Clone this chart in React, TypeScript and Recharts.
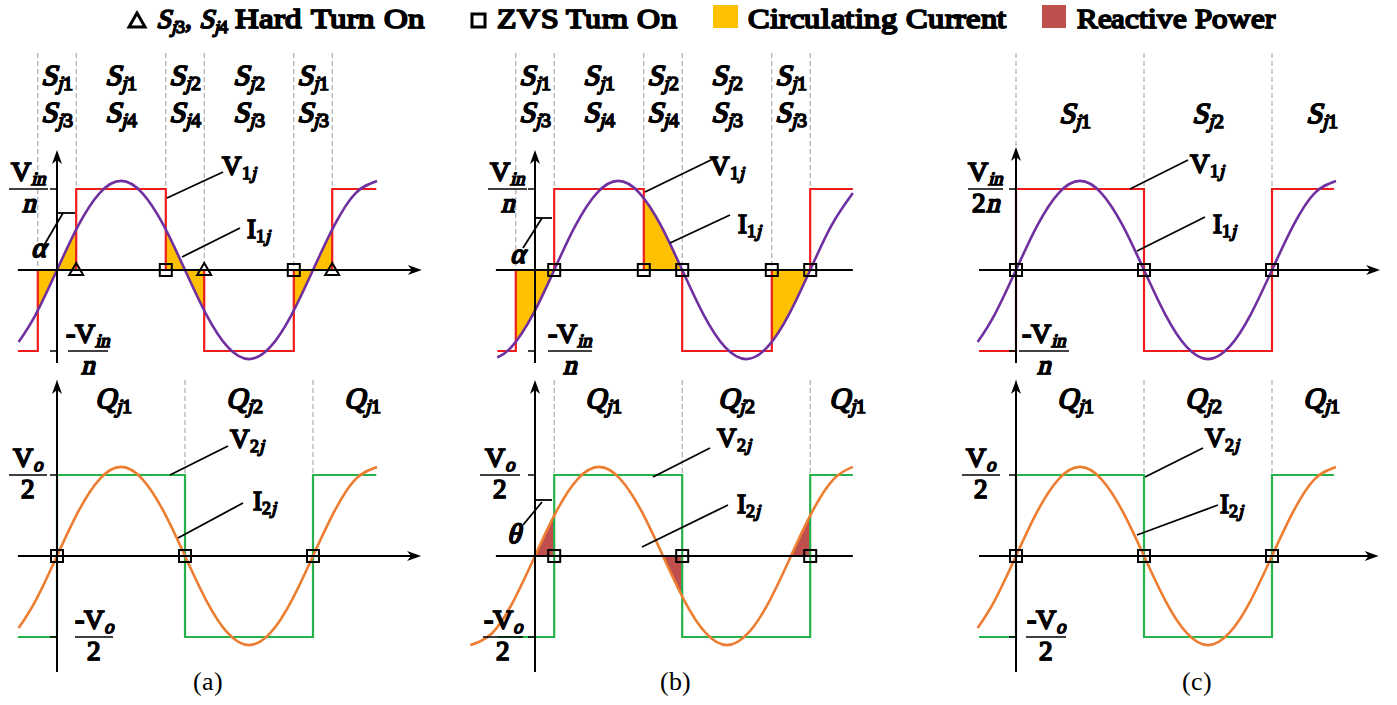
import React from "react";
import {
  Area,
  ComposedChart,
  Line,
  ReferenceDot,
  ReferenceLine,
  Scatter,
  XAxis,
  YAxis,
} from "recharts";

// phase in degrees, values relative to the square-wave level
const phaseI = [-54, -30, 0, 30, 60, 90, 120, 150, 180, 210, 240, 270, 300, 330, 360, 390, 420, 450];
const currI = [-0.89, -0.55, 0, 0.55, 0.95, 1.1, 0.95, 0.55, 0, -0.55, -0.95, -1.1, -0.95, -0.55, 0, 0.55, 0.95, 1.1];
const phaseI1b = [-53, -33, -3, 27, 57, 87, 117, 147, 177, 207, 237, 267, 297, 327, 357, 387, 417, 447];
const currI1b = [-1.08, -0.95, -0.55, 0, 0.55, 0.95, 1.1, 0.95, 0.55, 0, -0.55, -0.95, -1.1, -0.95, -0.55, 0, 0.55, 0.95];
const phaseI2b = [-91, -60, -30, 0, 30, 60, 90, 120, 150, 180, 210, 240, 270, 300, 330, 360, 390, 420, 447];
const currI2b = [-1.1, -0.95, -0.55, 0, 0.55, 0.95, 1.1, 0.95, 0.55, 0, -0.55, -0.95, -1.1, -0.95, -0.55, 0, 0.55, 0.95, 1.1];

const v1aEdges = [-55, -27, 27, 153, 207, 333, 387, 449];
const v1bEdges = [-53, -27, 27, 153, 207, 333, 387, 447];
const v1Levels = [-1, 0, 1, 0, -1, 0, 1, 1];
const v1cEdges = [-52, 0, 180, 360, 447];
const v2aEdges = [-55, 0, 180, 360, 449];
const v2bEdges = [-53, 27, 207, 387, 447];
const twoLevels = [-1, 1, -1, 1, 1];

const circPhase = [[-27, -13.5, 0, 13.5, 27], [153, 166.5, 180, 193.5, 207], [333, 346.5, 360, 373.5, 387]];
const circA = [[-0.5, -0.26, 0, 0.26, 0.5], [0.5, 0.26, 0, -0.26, -0.5], [-0.5, -0.26, 0, 0.26, 0.5]];
const circB = [[-0.89, -0.71, -0.5, -0.26, 0], [0.89, 0.71, 0.5, 0.26, 0], [-0.89, -0.71, -0.5, -0.26, 0]];
const reactPhase = [[0, 13.5, 27], [180, 193.5, 207], [360, 373.5, 387]];
const reactB = [[0, 0.26, 0.5], [0, -0.26, -0.5], [0, 0.26, 0.5]];

const hardA = [27, 207, 387];
const zvsA = [153, 333];
const zvsB1 = [27, 153, 207, 333, 387];
const zvsC = [0, 180, 360];
const zvsB2 = [27, 207, 387];

const statesAB = [["S|j1", "S|j3"], ["S|j1", "S|j4"], ["S|j2", "S|j4"], ["S|j2", "S|j3"], ["S|j1", "S|j3"]];
const statesC = [["S|j1"], ["S|j2"], ["S|j1"]];
const statesQ = [["Q|j1"], ["Q|j2"], ["Q|j1"]];

const K = 256 / 360; // px per degree
const U = 81; // px per unit level
// only the regular serif face is installed, so let the browser synthesise bold/italic
const FACE = `@font-face{font-family:'FigSerif';src:local('Liberation Serif'),local('LiberationSerif'),local('Times New Roman');font-weight:400;font-style:normal;}`;
const SERIF = "FigSerif, 'Liberation Serif', serif";
const BOLD = 0.75; // extra stroke to thicken the synthetic bold

type Pt = { x: number; y: number };
const mk = (xs: number[], ys: number[]): Pt[] => xs.map((x, i) => ({ x, y: ys[i] }));
const onAxis = (xs: number[]): Pt[] => xs.map((x) => ({ x, y: 0 }));
const inner = (edges: number[], levels: number[]) =>
  edges.slice(1, -1).map((x, i) => ({ x, to: Math.max(levels[i], levels[i + 1]) }));

function runs(s: string) {
  const out: [string, boolean][] = [];
  for (const ch of s) {
    const it = /[A-Za-z\u03b1-\u03c9]/.test(ch) && ch !== "V" && ch !== "I";
    const last = out[out.length - 1];
    if (last && last[1] === it) last[0] += ch;
    else out.push([ch, it]);
  }
  return out;
}

function Rich({ x, y, spec, size = 28, anchor = "start" }: any) {
  const [main, sub] = spec.split("|");
  const subSize = Math.round(size * 0.68);
  return (
    <text x={x} y={y} textAnchor={anchor} fontFamily={SERIF} fontWeight="bold" fontSize={size} fill="#000" stroke="#000" strokeWidth={BOLD}>
      {runs(main).map(([t, it], i) => (
        <tspan key={"m" + i} fontStyle={it ? "italic" : "normal"}>{t}</tspan>
      ))}
      {sub
        ? runs(sub).map(([t, it], i) => (
            <tspan key={"s" + i} fontSize={subSize} fontStyle={it ? "italic" : "normal"} dy={i === 0 ? Math.round(size * 0.16) : undefined}>
              {t}
            </tspan>
          ))
        : null}
    </text>
  );
}

const arrowRight = (s: any) => (
  <polygon points={`${s.cx},${s.cy} ${s.cx - 14},${s.cy - 5} ${s.cx - 10},${s.cy} ${s.cx - 14},${s.cy + 5}`} fill="#000" />
);
const arrowUp = (s: any) => (
  <polygon points={`${s.cx},${s.cy} ${s.cx - 5},${s.cy + 14} ${s.cx},${s.cy + 10} ${s.cx + 5},${s.cy + 14}`} fill="#000" />
);
const squareMark = (s: any) => (
  <rect x={s.cx - 6} y={s.cy - 6} width={12} height={12} fill="none" stroke="#000" strokeWidth={2} />
);
const triMark = (s: any) => (
  <polygon points={`${s.cx},${s.cy - 7} ${s.cx - 7},${s.cy + 5} ${s.cx + 7},${s.cy + 5}`} fill="none" stroke="#000" strokeWidth={2} />
);

type Col = { left: number; width: number; ox: number };
type Row = { top: number; height: number; oy: number };
const colA: Col = { left: 0, width: 445, ox: 57 };
const colB: Col = { left: 470, width: 420, ox: 535 };
const colC: Col = { left: 940, width: 457, ox: 1016 };
const rowTop: Row = { top: 40, height: 340, oy: 270 };
const rowBot: Row = { top: 370, height: 335, oy: 556 };

interface Ann {
  lines: number[][];
  texts: { at: number[]; spec: string; size?: number; anchor?: string }[];
  fracs: { at: number[]; w: number; num: string; den: string }[];
}

interface PanelSpec {
  col: Col;
  row: Row;
  sine: Pt[];
  sineColor: string;
  square: Pt[];
  squareColor: string;
  fills: Pt[][];
  fillColor: string;
  hard: number[];
  zvs: number[];
  dashed: { x: number; to: number }[];
  dashTop: number;
  axisX: number[];
  arrowX: boolean;
  axisY: number[];
  states: string[][];
  statePhase: number[];
  stateRows: number[];
  ann: Ann;
}

function Panel({ s }: { s: PanelSpec }) {
  const { col, row } = s;
  const X = (dx: number) => dx / K;
  const Y = (dy: number) => -dy / U;
  const xDomain = [X(col.left - col.ox), X(col.left + col.width - col.ox)];
  const yDomain = [Y(row.top + row.height - row.oy), Y(row.top - row.oy)];
  const xEnd = s.arrowX ? s.axisX[1] - X(8) : s.axisX[1];
  return (
    <div style={{ position: "absolute", left: col.left, top: row.top }}>
      <ComposedChart width={col.width} height={row.height} margin={{ top: 0, right: 0, bottom: 0, left: 0 }}>
        <XAxis type="number" dataKey="x" domain={xDomain} hide allowDataOverflow />
        <YAxis type="number" dataKey="y" domain={yDomain} hide allowDataOverflow />
        {s.fills.map((f, i) => (
          <Area key={"f" + i} data={f} dataKey="y" type="monotone" baseValue={0} stroke="none" fill={s.fillColor} fillOpacity={1} isAnimationActive={false} />
        ))}
        {s.dashed.map((d, i) => (
          <ReferenceLine key={"d" + i} segment={[{ x: d.x, y: Y(s.dashTop) }, { x: d.x, y: d.to }]} stroke="#9a9a9a" strokeWidth={1} strokeDasharray="5 3" />
        ))}
        <Line data={s.square} dataKey="y" type="stepAfter" stroke={s.squareColor} strokeWidth={2.2} dot={false} isAnimationActive={false} />
        <Line data={s.sine} dataKey="y" type="natural" stroke={s.sineColor} strokeWidth={2.6} dot={false} isAnimationActive={false} />
        <ReferenceLine segment={[{ x: s.axisX[0], y: 0 }, { x: xEnd, y: 0 }]} stroke="#000" strokeWidth={2} />
        {s.arrowX && <ReferenceDot x={s.axisX[1]} y={0} r={1} shape={arrowRight} />}
        <ReferenceLine segment={[{ x: 0, y: Y(s.axisY[0]) }, { x: 0, y: Y(s.axisY[1] + 8) }]} stroke="#000" strokeWidth={2} />
        <ReferenceDot x={0} y={Y(s.axisY[1])} r={1} shape={arrowUp} />
        <ReferenceLine segment={[{ x: X(-7), y: 1 }, { x: 0, y: 1 }]} stroke="#000" strokeWidth={1.5} />
        <ReferenceLine segment={[{ x: X(-7), y: -1 }, { x: 0, y: -1 }]} stroke="#000" strokeWidth={1.5} />
        <Scatter data={onAxis(s.zvs)} dataKey="y" shape={squareMark} isAnimationActive={false} />
        {s.hard.length > 0 && <Scatter data={onAxis(s.hard)} dataKey="y" shape={triMark} isAnimationActive={false} />}
        {s.ann.lines.map((l, i) => (
          <ReferenceLine key={"l" + i} segment={[{ x: X(l[0]), y: Y(l[1]) }, { x: X(l[2]), y: Y(l[3]) }]} stroke="#000" strokeWidth={1.8} />
        ))}
        {s.states.map((rows, i) =>
          rows.map((spec, j) => (
            <ReferenceDot
              key={"st" + i + "-" + j}
              x={s.statePhase[i]}
              y={Y(s.stateRows[j])}
              r={1}
              shape={(p: any) => <Rich x={p.cx} y={p.cy} spec={spec} size={29} anchor="middle" />}
            />
          ))
        )}
        {s.ann.texts.map((t, i) => (
          <ReferenceDot
            key={"t" + i}
            x={X(t.at[0])}
            y={Y(t.at[1])}
            r={1}
            shape={(p: any) => <Rich x={p.cx} y={p.cy} spec={t.spec} size={t.size ?? 28} anchor={t.anchor ?? "start"} />}
          />
        ))}
        {s.ann.fracs.map((f, i) => (
          <ReferenceDot
            key={"q" + i}
            x={X(f.at[0])}
            y={Y(f.at[1])}
            r={1}
            shape={(p: any) => (
              <g>
                <line x1={p.cx - f.w / 2} x2={p.cx + f.w / 2} y1={p.cy} y2={p.cy} stroke="#000" strokeWidth={1.6} />
                <Rich x={p.cx} y={p.cy - 8} spec={f.num} size={28} anchor="middle" />
                <Rich x={p.cx} y={p.cy + 23} spec={f.den} size={27} anchor="middle" />
              </g>
            )}
          />
        ))}
      </ComposedChart>
    </div>
  );
}

const RED = "#f01c1c";
const PURPLE = "#7030a0";
const ORANGE = "#ed7d31";
const GREEN = "#25b24a";
const YELLOW = "#ffc000";
const BROWN = "#c0504d";

const panels: PanelSpec[] = [
  {
    col: colA, row: rowTop,
    sine: mk(phaseI, currI), sineColor: PURPLE,
    square: mk(v1aEdges, v1Levels), squareColor: RED,
    fills: circPhase.map((p, i) => mk(p, circA[i])), fillColor: YELLOW,
    hard: hardA, zvs: zvsA,
    dashed: inner(v1aEdges, v1Levels), dashTop: -217,
    axisX: [-55, 513], arrowX: true, axisY: [93, -120],
    states: statesAB, statePhase: [0, 90, 180, 270, 360], stateRows: [-185, -148],
    ann: {
      lines: [[110, -72, 166, -98], [125, -13, 183, -42], [1, -57, 18, -57], [6, -57, -14, -23]],
      texts: [
        { at: [165, -95], spec: "V|1j", size: 27 },
        { at: [190, -32], spec: "I|1j", size: 27 },
        { at: [-19, -13], spec: "\u03b1", anchor: "middle" },
      ],
      fracs: [
        { at: [-28.5, -81], w: 39, num: "V|in", den: "n" },
        { at: [31, 81], w: 40, num: "-V|in", den: "n" },
      ],
    },
  },
  {
    col: colB, row: rowTop,
    sine: mk(phaseI1b, currI1b), sineColor: PURPLE,
    square: mk(v1bEdges, v1Levels), squareColor: RED,
    fills: circPhase.map((p, i) => mk(p, circB[i])), fillColor: YELLOW,
    hard: [], zvs: zvsB1,
    dashed: inner(v1bEdges, v1Levels), dashTop: -217,
    axisX: [-55, 447], arrowX: false, axisY: [93, -120],
    states: statesAB, statePhase: [0, 90, 180, 270, 360], stateRows: [-185, -148],
    ann: {
      lines: [[110, -78, 180, -112], [135, -27, 195, -55], [0, -52, 17, -52], [7, -52, -12, -22]],
      texts: [
        { at: [175, -95], spec: "V|1j", size: 27 },
        { at: [203, -37], spec: "I|1j", size: 27 },
        { at: [-18, -7], spec: "\u03b1", anchor: "middle" },
      ],
      fracs: [
        { at: [-27.5, -81], w: 39, num: "V|in", den: "n" },
        { at: [35, 81], w: 44, num: "-V|in", den: "n" },
      ],
    },
  },
  {
    col: colC, row: rowTop,
    sine: mk(phaseI, currI), sineColor: PURPLE,
    square: mk(v1cEdges, twoLevels), squareColor: RED,
    fills: [], fillColor: YELLOW,
    hard: [], zvs: zvsC,
    dashed: inner(v1cEdges, twoLevels), dashTop: -217,
    axisX: [-52, 512], arrowX: true, axisY: [93, -123],
    states: statesC, statePhase: [83, 270, 430], stateRows: [-147],
    ann: {
      lines: [[114, -81, 172, -110], [121, -19, 189, -53]],
      texts: [
        { at: [174, -97], spec: "V|1j", size: 27 },
        { at: [197, -37], spec: "I|1j", size: 27 },
      ],
      fracs: [
        { at: [-30.5, -81], w: 35, num: "V|in", den: "2n" },
        { at: [28, 81], w: 50, num: "-V|in", den: "n" },
      ],
    },
  },
  {
    col: colA, row: rowBot,
    sine: mk(phaseI, currI), sineColor: ORANGE,
    square: mk(v2aEdges, twoLevels), squareColor: GREEN,
    fills: [], fillColor: BROWN,
    hard: [], zvs: zvsC,
    dashed: inner(v2aEdges, twoLevels), dashTop: -176,
    axisX: [-55, 512], arrowX: true, axisY: [116, -176],
    states: statesQ, statePhase: [80, 263, 429], stateRows: [-148],
    ann: {
      lines: [[113, -81, 171, -110], [121, -18, 186, -53]],
      texts: [
        { at: [173, -108], spec: "V|2j", size: 27 },
        { at: [196, -46], spec: "I|2j", size: 27 },
      ],
      fracs: [
        { at: [-29, -81], w: 38, num: "V|o", den: "2" },
        { at: [37, 81], w: 38, num: "-V|o", den: "2" },
      ],
    },
  },
  {
    col: colB, row: rowBot,
    sine: mk(phaseI2b, currI2b), sineColor: ORANGE,
    square: mk(v2bEdges, twoLevels), squareColor: GREEN,
    fills: reactPhase.map((p, i) => mk(p, reactB[i])), fillColor: BROWN,
    hard: [], zvs: zvsB2,
    dashed: inner(v2bEdges, twoLevels), dashTop: -176,
    axisX: [-55, 447], arrowX: false, axisY: [116, -176],
    states: statesQ, statePhase: [97, 284, 439], stateRows: [-148],
    ann: {
      lines: [[118, -79, 175, -108], [107, -9, 193, -51], [0, -56, 17, -56], [7, -54, -12, -31]],
      texts: [
        { at: [182, -109], spec: "V|2j", size: 27 },
        { at: [202, -43], spec: "I|2j", size: 27 },
        { at: [-22, -13], spec: "\u03b8", anchor: "middle" },
      ],
      fracs: [
        { at: [-35, -81], w: 40, num: "V|o", den: "2" },
        { at: [-32, 81], w: 40, num: "-V|o", den: "2" },
      ],
    },
  },
  {
    col: colC, row: rowBot,
    sine: mk(phaseI, currI), sineColor: ORANGE,
    square: mk(v1cEdges, twoLevels), squareColor: GREEN,
    fills: [], fillColor: BROWN,
    hard: [], zvs: zvsC,
    dashed: inner(v1cEdges, twoLevels), dashTop: -176,
    axisX: [-52, 510], arrowX: true, axisY: [116, -176],
    states: statesQ, statePhase: [83, 263, 430], stateRows: [-148],
    ann: {
      lines: [[129, -79, 187, -108], [121, -21, 202, -51]],
      texts: [
        { at: [189, -109], spec: "V|2j", size: 27 },
        { at: [204, -43], spec: "I|2j", size: 27 },
      ],
      fracs: [
        { at: [-35, -81], w: 38, num: "V|o", den: "2" },
        { at: [30, 81], w: 40, num: "-V|o", den: "2" },
      ],
    },
  },
];

function Header() {
  const t = { fontFamily: SERIF, fontWeight: "bold" as const, fontSize: 27, fill: "#000", stroke: "#000", strokeWidth: BOLD };
  return (
    <svg width={1397} height={705} style={{ position: "absolute", left: 0, top: 0, pointerEvents: "none" }}>
      <polygon points="137,13 129,27 145,27" fill="none" stroke="#000" strokeWidth={3} />
      <text x={156} y={28} {...t}>
        <tspan fontStyle="italic">S</tspan>
        <tspan fontSize={18} dy={5} fontStyle="italic">j</tspan>
        <tspan fontSize={18}>3</tspan>
        <tspan dy={-5}>, </tspan>
        <tspan fontStyle="italic">S</tspan>
        <tspan fontSize={18} dy={5} fontStyle="italic">j</tspan>
        <tspan fontSize={18}>4</tspan>
      </text>
      <text x={235} y={28} {...t} textLength={190} lengthAdjust="spacingAndGlyphs">Hard Turn On</text>
      <rect x={472} y={14} width={13} height={13} fill="none" stroke="#000" strokeWidth={3} />
      <text x={497} y={28} {...t} textLength={180} lengthAdjust="spacingAndGlyphs">ZVS Turn On</text>
      <rect x={713} y={5} width={25} height={23} fill={YELLOW} />
      <text x={748} y={28} {...t} textLength={259} lengthAdjust="spacingAndGlyphs">Circulating Current</text>
      <rect x={1042} y={5} width={24} height={23} fill={BROWN} />
      <text x={1077} y={28} {...t} textLength={198} lengthAdjust="spacingAndGlyphs">Reactive Power</text>
      {[["(a)", 208], ["(b)", 675], ["(c)", 1197]].map(([c, x]) => (
        <text key={c as string} x={x as number} y={690} textAnchor="middle" fontFamily={SERIF} fontSize={26} fill="#000">
          {c}
        </text>
      ))}
    </svg>
  );
}

export default function App() {
  return (
    <div style={{ position: "absolute", left: 0, top: 0, width: 1397, height: 705, background: "#fff", overflow: "hidden" }}>
      <style>{FACE}</style>
      {panels.map((p, i) => (
        <Panel key={i} s={p} />
      ))}
      <Header />
    </div>
  );
}
